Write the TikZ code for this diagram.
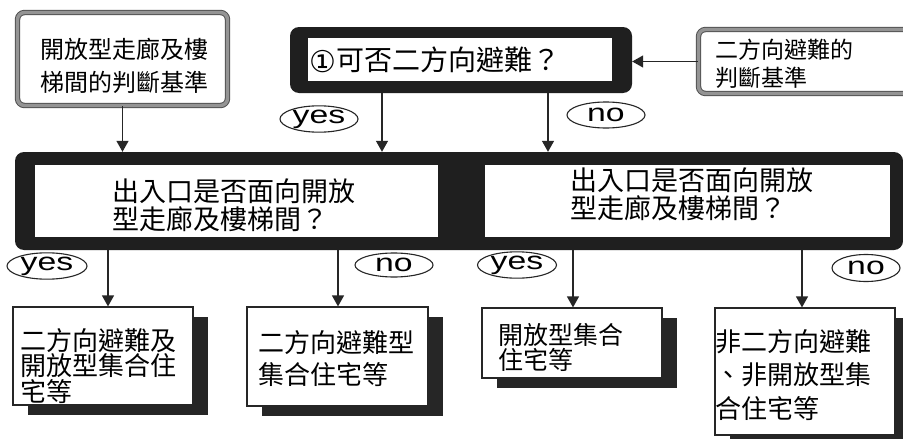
\documentclass[tikz,border=0pt]{standalone}
\usepackage{fontspec}
\newfontfamily\cjk{Noto Sans CJK TC}
\newfontfamily\sym{DejaVu Sans}
\newfontfamily\lat[FakeStretch=1.35]{Liberation Sans}
\usetikzlibrary{arrows.meta,shadows,shapes.geometric}
\begin{document}
\begin{tikzpicture}[x=1pt,y=-1pt,
  arr/.style={-{Triangle[width=12pt,length=11pt]}, line width=1.3pt, draw=black!85},
  gbox/.style={draw=black!68, double=black!42, double distance=3.4pt, line width=1pt, rounded corners=7pt, fill=white, inner sep=0pt},
  wbox/.style={draw=black!85, line width=1.2pt, fill=white, inner sep=0pt,
    drop shadow={shadow xshift=15pt, shadow yshift=-10pt, fill=black!85, opacity=1}},
  blk/.style={fill=black!88, rounded corners=9pt, inner sep=0pt},
  pane/.style={fill=white, inner sep=0pt},
  txt/.style={anchor=west, align=left, inner sep=0pt},
  oval/.style={ellipse, draw=black!85, line width=1.1pt, inner sep=0pt, font=\lat\fontsize{25}{25}\selectfont}
]
\useasboundingbox[fill=white] (0,0) rectangle (903,439);

% top left criteria box
\node[gbox, minimum width=210pt, minimum height=93pt] (tl) at (122.5,59) {};
\node[txt, font={\cjk\fontsize{24}{33}\selectfont}] (tlt) at (40,66) {開放型走廊及樓\\梯間的判斷基準};

% top right criteria box
\node[gbox, minimum width=215pt, minimum height=64pt] (tr) at (806,61.5) {};
\node[txt, font={\cjk\fontsize{23}{28}\selectfont}] (trt) at (715,63.5) {二方向避難的\\判斷基準};

% question 1
\node[blk, minimum width=342pt, minimum height=66pt] (q1) at (461,60) {};
\node[pane, minimum width=304pt, minimum height=43pt] (q1in) at (460,59.5) {};
\node[txt, font={\cjk\fontsize{28}{30}\selectfont}] (q1t) at (309,60) {\raisebox{-2pt}{\sym\fontsize{30}{30}\selectfont ①}可否二方向避難？};

% middle questions
\node[blk, minimum width=888pt, minimum height=98pt] (mid) at (459,201) {};
\node[pane, minimum width=403pt, minimum height=72pt] (midL) at (236.5,201) {};
\node[pane, minimum width=405pt, minimum height=72pt] (midR) at (687.5,201) {};
\node[txt, font={\cjk\fontsize{27}{28}\selectfont}] (midLt) at (112,205) {出入口是否面向開放\\型走廊及樓梯間？};
\node[txt, font={\cjk\fontsize{27}{28}\selectfont}] (midRt) at (570,194) {出入口是否面向開放\\型走廊及樓梯間？};

% result boxes
\node[wbox, minimum width=180pt, minimum height=98pt] (b1) at (103,356) {};
\node[txt, font={\cjk\fontsize{26}{25.5}\selectfont}] (b1t) at (20,366) {二方向避難及\\開放型集合住\\宅等};
\node[wbox, minimum width=181pt, minimum height=99pt] (b2) at (337.5,356.5) {};
\node[txt, font={\cjk\fontsize{26}{32}\selectfont}] (b2t) at (258,359) {二方向避難型\\集合住宅等};
\node[wbox, minimum width=180pt, minimum height=70pt] (b3) at (572,343) {};
\node[txt, font={\cjk\fontsize{25}{25}\selectfont}] (b3t) at (498,347) {開放型集合\\住宅等};
\node[wbox, minimum width=180pt, minimum height=127pt] (b4) at (805,371.5) {};
\node[txt, font={\cjk\fontsize{26}{33.5}\selectfont}] (b4t) at (715,375) {非二方向避難\\、非開放型集\\合住宅等};

% yes / no labels
\node[oval, minimum width=78pt, minimum height=22pt] (y0) at (319,119) {yes};
\node[oval, minimum width=78pt, minimum height=26pt] (n0) at (606,115) {no};
\node[oval, minimum width=80pt, minimum height=25pt] (y1) at (47,266) {yes};
\node[oval, minimum width=78pt, minimum height=24pt] (n1) at (394,265) {no};
\node[oval, minimum width=79pt, minimum height=24pt] (y2) at (517,265) {yes};
\node[oval, minimum width=68pt, minimum height=27pt] (n2) at (866,268) {no};

% x positions of connectors
\coordinate (xa) at (382,0);
\coordinate (xb) at (548,0);
\coordinate (x1) at (108,0);
\coordinate (x2) at (338,0);
\coordinate (x3) at (573,0);
\coordinate (x4) at (802,0);

% connectors
\draw[arr] (tl.south) -- (tl.south |- mid.north);
\draw[arr] (tr.west) -- (tr.west -| q1.east);
\draw[arr] (q1.south -| xa) -- (mid.north -| xa);
\draw[arr] (q1.south -| xb) -- (mid.north -| xb);
\draw[arr] (mid.south -| x1) -- (b1.north -| x1);
\draw[arr] (mid.south -| x2) -- (b2.north -| x2);
\draw[arr] (mid.south -| x3) -- (b3.north -| x3);
\draw[arr] (mid.south -| x4) -- (b4.north -| x4);
\end{tikzpicture}
\end{document}
